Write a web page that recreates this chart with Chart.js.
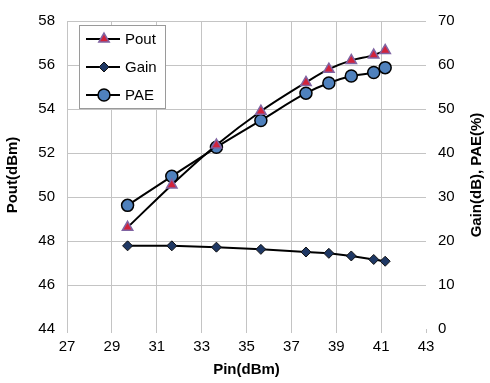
<!DOCTYPE html>
<html>
<head>
<meta charset="utf-8">
<script src="https://cdn.jsdelivr.net/npm/chart.js@4"></script>
<style>
  html, body { margin: 0; padding: 0; background: #fff; }
  #wrap { width: 490px; height: 383px; }
</style>
</head>
<body>
<div id="wrap"><canvas id="chart" width="490" height="383"></canvas></div>
<script>
const pinValues = [29.7, 31.67, 33.66, 35.64, 37.65, 38.67, 39.67, 40.67, 41.18];
const poutValues = [48.62, 50.55, 52.36, 53.9, 55.21, 55.81, 56.21, 56.45, 56.66];
const gainValues = [18.9, 18.9, 18.6, 18.1, 17.5, 17.2, 16.6, 15.8, 15.4];
const paeValues = [28.1, 34.7, 41.3, 47.4, 53.6, 55.9, 57.5, 58.3, 59.4];
const seriesNames = ["Pout", "Gain", "PAE"];
const rightTitle = "Gain(dB), PAE(%)";

const FONT = "'Liberation Sans', Arial, sans-serif";

function pts(ys) {
  return pinValues.map((x, i) => ({ x, y: ys[i] }));
}

// legend drawn inside the plot, with a plain box around it
const boxLegend = {
  id: "boxLegend",
  afterDraw(chart) {
    const ctx = chart.ctx;
    const x0 = 79, y0 = 25, w = 86, h = 83;
    ctx.save();
    ctx.fillStyle = "#fff";
    ctx.strokeStyle = "#9a9a9a";
    ctx.lineWidth = 1;
    ctx.fillRect(x0, y0, w, h);
    ctx.strokeRect(x0 + 0.5, y0 + 0.5, w, h);
    const rows = [39, 67, 95];
    chart.data.datasets.forEach((ds, i) => {
      const y = rows[i];
      ctx.strokeStyle = "#000";
      ctx.lineWidth = 2;
      ctx.beginPath();
      ctx.moveTo(86, y);
      ctx.lineTo(120, y);
      ctx.stroke();
      ctx.fillStyle = ds.pointBackgroundColor;
      ctx.strokeStyle = ds.pointBorderColor;
      ctx.lineWidth = ds.pointBorderWidth;
      Chart.helpers.drawPoint(ctx, {
        pointStyle: ds.pointStyle,
        radius: ds.pointRadius,
        rotation: 0,
        borderWidth: ds.pointBorderWidth
      }, 104, y);
      ctx.fillStyle = "#000";
      ctx.font = "15px " + FONT;
      ctx.textBaseline = "middle";
      ctx.textAlign = "left";
      ctx.fillText(ds.label, 125, y + 1);
    });
    ctx.restore();

    // right axis title reads bottom-to-top like the left one
    const area = chart.chartArea;
    ctx.save();
    ctx.translate(477, (area.top + area.bottom) / 2);
    ctx.rotate(-Math.PI / 2);
    ctx.font = "bold 15px " + FONT;
    ctx.fillStyle = "#000";
    ctx.textAlign = "center";
    ctx.textBaseline = "middle";
    ctx.fillText(rightTitle, 0, 0);
    ctx.restore();
  }
};

Chart.defaults.font.family = FONT;
Chart.defaults.color = "#000";

new Chart(document.getElementById("chart"), {
  type: "scatter",
  data: {
    datasets: [
      {
        label: seriesNames[0],
        data: pts(poutValues),
        yAxisID: "y",
        showLine: true,
        borderColor: "#000",
        borderWidth: 2,
        pointStyle: "triangle",
        pointRadius: 6,
        pointBackgroundColor: "#d2233c",
        pointBorderColor: "#8064a2",
        pointBorderWidth: 1.5,
        cubicInterpolationMode: "monotone"
      },
      {
        label: seriesNames[1],
        data: pts(gainValues),
        yAxisID: "y1",
        showLine: true,
        borderColor: "#000",
        borderWidth: 2,
        pointStyle: "rectRot",
        pointRadius: 5,
        pointBackgroundColor: "#1f3864",
        pointBorderColor: "#111",
        pointBorderWidth: 1
      },
      {
        label: seriesNames[2],
        data: pts(paeValues),
        yAxisID: "y1",
        showLine: true,
        borderColor: "#000",
        borderWidth: 2,
        pointStyle: "circle",
        pointRadius: 6,
        pointBackgroundColor: "#4f81bd",
        pointBorderColor: "#000",
        pointBorderWidth: 1.5,
        cubicInterpolationMode: "monotone"
      }
    ]
  },
  options: {
    responsive: false,
    animation: false,
    layout: { padding: { top: 16, left: 0, right: 0, bottom: 0 } },
    plugins: { legend: { display: false }, tooltip: { enabled: false } },
    scales: {
      x: {
        type: "linear",
        min: 27,
        max: 43,
        ticks: { stepSize: 2, font: { size: 15 }, padding: 5 },
        grid: {
          color: (c) => (c.tick && c.tick.value === 43 ? "rgba(0,0,0,0)" : "#c4c4c4"),
          tickLength: 4,
          tickColor: "#c4c4c4"
        },
        border: { display: false },
        title: {
          display: true,
          text: "Pin(dBm)",
          font: { size: 15, weight: "bold" },
          padding: { top: 4 }
        },
        afterFit(s) { s.height = 54; }
      },
      y: {
        position: "left",
        min: 44,
        max: 58,
        ticks: { stepSize: 2, font: { size: 15 }, padding: 12 },
        grid: {
          color: (c) => (c.tick && c.tick.value === 44 ? "rgba(0,0,0,0)" : "#c4c4c4"),
          drawTicks: false
        },
        border: { display: false },
        title: {
          display: true,
          text: "Pout(dBm)",
          font: { size: 15, weight: "bold" },
          padding: { bottom: 6 }
        },
        afterFit(s) { s.width = 67; }
      },
      y1: {
        position: "right",
        min: 0,
        max: 70,
        ticks: { stepSize: 10, font: { size: 15 }, padding: 12 },
        grid: { drawOnChartArea: false, drawTicks: false },
        border: { display: false },
        title: { display: false },
        afterFit(s) { s.width = 64; }
      }
    }
  },
  plugins: [boxLegend]
});
</script>
</body>
</html>
